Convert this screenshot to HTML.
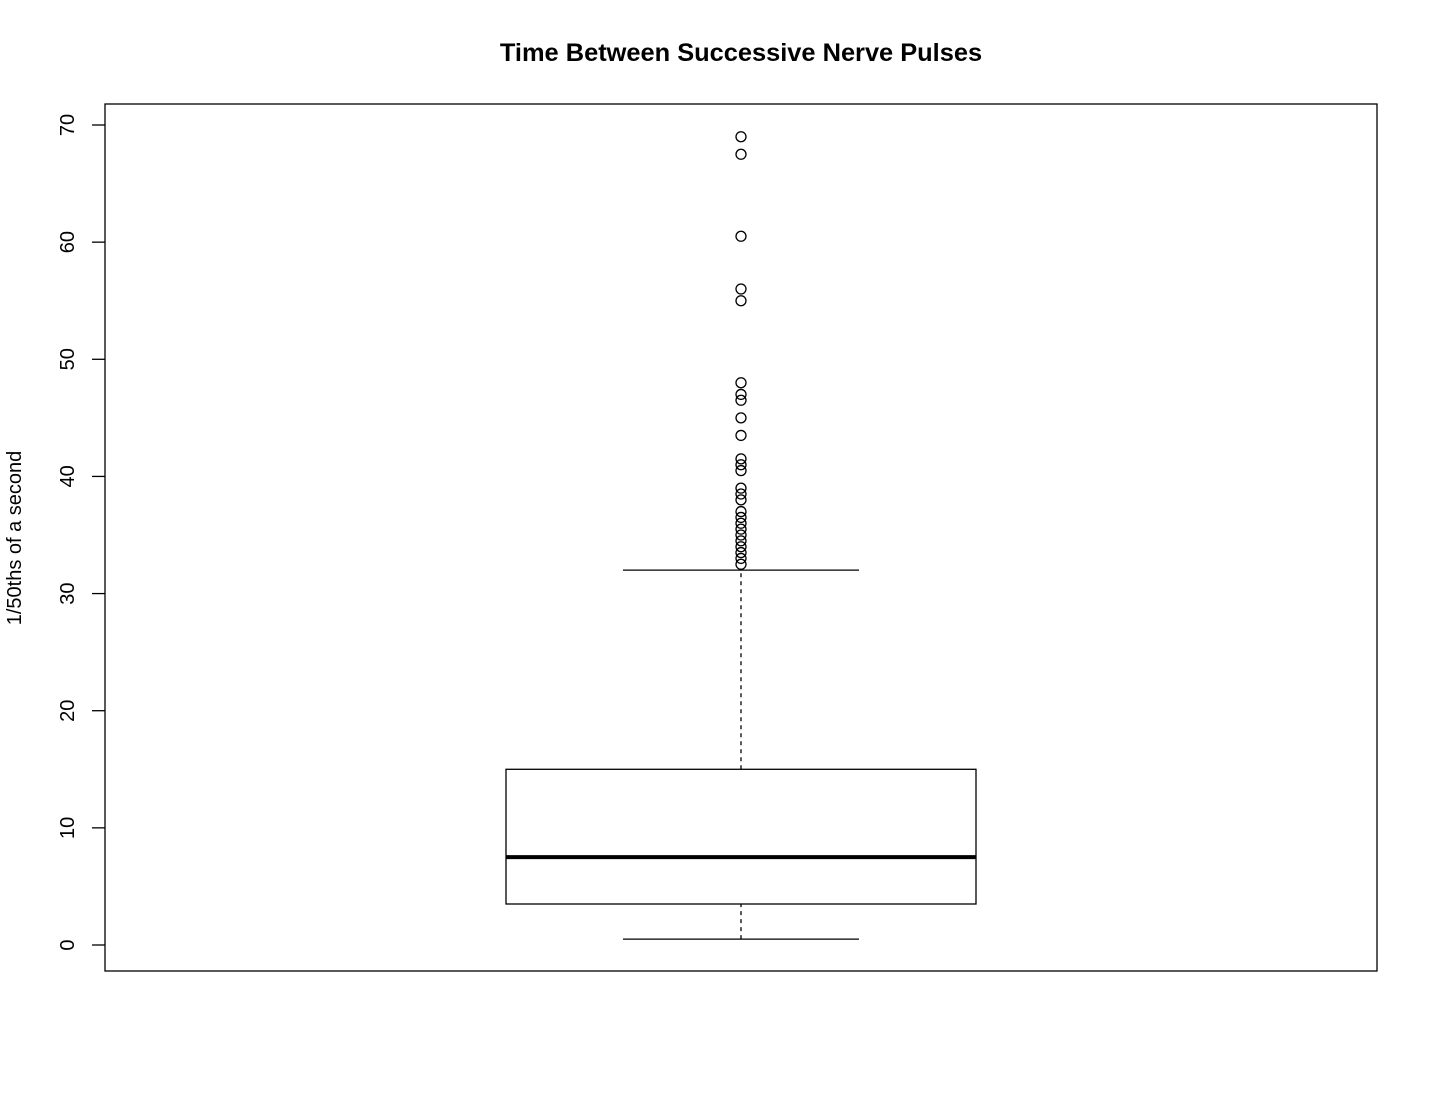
<!DOCTYPE html>
<html><head><meta charset="utf-8"><style>
html,body{margin:0;padding:0;background:#fff;}
svg{display:block;font-family:"Liberation Sans",Arial,sans-serif;}
</style></head><body>
<svg id="chart" width="1430" height="1104" xmlns="http://www.w3.org/2000/svg">
<text x="741" y="61" text-anchor="middle" font-size="25.4" font-weight="bold">Time Between Successive Nerve Pulses</text>
<rect x="105" y="104" width="1272" height="867" fill="none" stroke="#000" stroke-width="1.3"/>
<text transform="translate(21,538) rotate(-90)" text-anchor="middle" font-size="20">1/50ths of a second</text>
<g id="yaxis"></g>
<g id="box"></g>
</svg>
<script>
const yTicks=[0,10,20,30,40,50,60,70];
const stats=[0.5,3.5,7.5,15,32]; // lower whisker, Q1, median, Q3, upper whisker
const outliers=[69,67.5,60.5,56,55,48,47,46.5,45,43.5,41.5,41,40.5,39,38.5,38,37,36.5,36,35.5,35,34.5,34,33.5,33,32.5];
const NS="http://www.w3.org/2000/svg";
function y(v){return 945-(v*820/70);}
const cx=741, bw=235, ww=118;
function mk(tag,attrs,parent){const e=document.createElementNS(NS,tag);for(const k in attrs)e.setAttribute(k,attrs[k]);parent.appendChild(e);return e;}
const ya=document.getElementById('yaxis');
yTicks.forEach(t=>{
  const l=mk('line',{x1:92,x2:105,y1:y(t),y2:y(t),stroke:'#000','stroke-width':1.3},ya);
  
  
  const tx=mk('text',{transform:`translate(74,${y(t)}) rotate(-90)`,'text-anchor':'middle','font-size':20},ya);
  tx.textContent=t;
  
  
});
const b=document.getElementById('box');
const [lo,q1,md,q3,hi]=stats;
let e;
e=mk('line',{x1:cx,x2:cx,y1:y(q3),y2:y(hi),stroke:'#000','stroke-width':1.3,'stroke-dasharray':'4,4'},b);


e=mk('line',{x1:cx,x2:cx,y1:y(lo),y2:y(q1),stroke:'#000','stroke-width':1.3,'stroke-dasharray':'4,4'},b);


e=mk('line',{x1:cx-ww,x2:cx+ww,y1:y(hi),y2:y(hi),stroke:'#000','stroke-width':1.3},b);


e=mk('line',{x1:cx-ww,x2:cx+ww,y1:y(lo),y2:y(lo),stroke:'#000','stroke-width':1.3},b);


e=mk('rect',{x:cx-bw,y:y(q3),width:2*bw,height:y(q1)-y(q3),fill:'none',stroke:'#000','stroke-width':1.3},b);


e=mk('line',{x1:cx-bw,x2:cx+bw,y1:y(md),y2:y(md),stroke:'#000','stroke-width':4},b);


outliers.forEach(v=>{
  const c=mk('circle',{cx:cx,cy:y(v),r:5,fill:'none',stroke:'#000','stroke-width':1.3},b);
  
  
});
</script>
</body></html>
